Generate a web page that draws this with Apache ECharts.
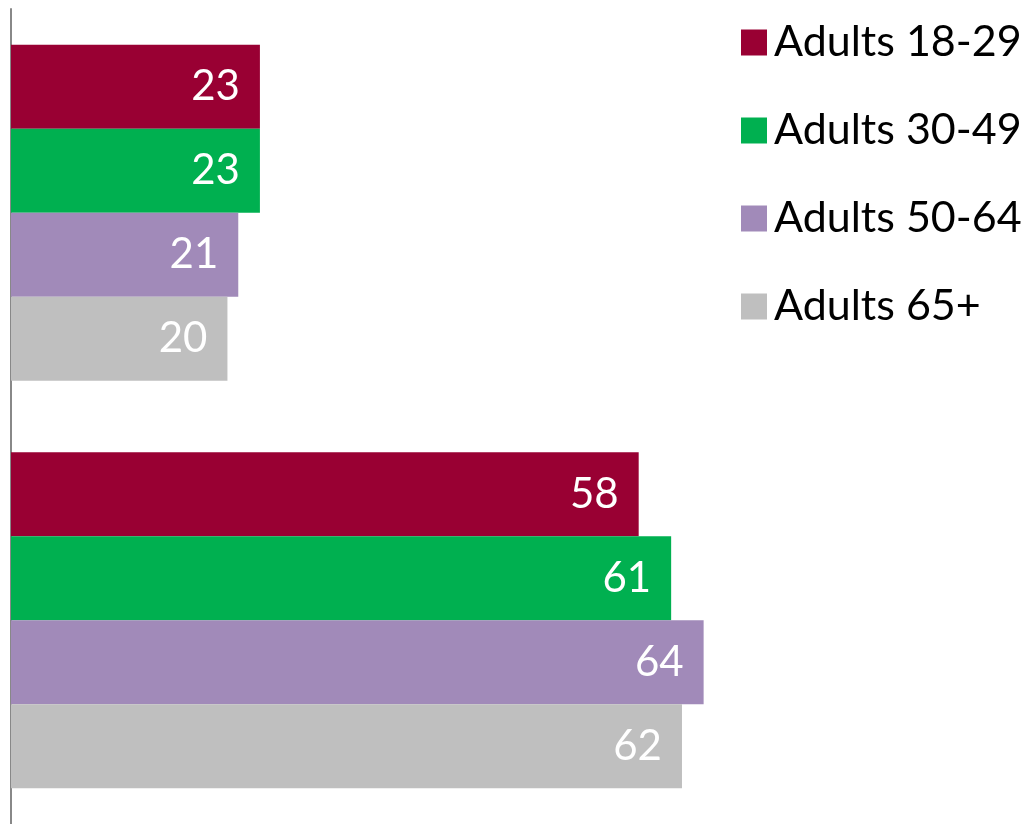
<!DOCTYPE html>
<html>
<head>
<meta charset="UTF-8">
<title>Adults by age</title>
<script src="https://cdn.jsdelivr.net/npm/echarts@6/dist/echarts.min.js"></script>
<style>
  html, body { margin: 0; padding: 0; background: #fff; }
  #main { width: 1029px; height: 824px; }
</style>
</head>
<body>
<div id="main"></div>
<script>
var categories = ['Group A', 'Group B'];
var seriesNames = ['Adults 18-29', 'Adults 30-49', 'Adults 50-64', 'Adults 65+'];
var adults1829 = [23, 58];
var adults3049 = [23, 61];
var adults5064 = [21, 64];
var adults65 = [20, 62];
var colors = ['#990033', '#00B050', '#A18AB9', '#BFBFBF'];

var values = [adults1829, adults3049, adults5064, adults65];
var fontFam = 'Lato, "Open Sans", sans-serif';

var myChart = echarts.init(document.getElementById('main'));

var series = [];
for (var i = 0; i < seriesNames.length; i++) {
  series.push({
    name: seriesNames[i],
    type: 'bar',
    barWidth: 84,
    barGap: '0%',
    data: values[i],
    itemStyle: { color: colors[i] },
    label: {
      show: true,
      position: 'insideRight',
      distance: 20,
      color: '#fff',
      fontSize: 42,
      fontFamily: fontFam
    }
  });
}

var option = {
  animation: false,
  color: colors,
  grid: { left: 11, top: 9, width: 974, height: 818 },
  legend: {
    orient: 'vertical',
    left: 736,
    top: 16,
    itemWidth: 26,
    itemHeight: 26,
    itemGap: 45,
    icon: 'rect',
    data: seriesNames,
    textStyle: { fontSize: 43, lineHeight: 42, color: '#000', fontFamily: fontFam, padding: [0, 0, 0, 2] }
  },
  xAxis: {
    type: 'value',
    min: 0,
    max: 90,
    show: false
  },
  yAxis: {
    type: 'category',
    data: categories,
    inverse: true,
    axisLine: { show: true, lineStyle: { color: '#888888', width: 2 } },
    axisTick: { show: false },
    axisLabel: { show: false }
  },
  series: series
};

myChart.setOption(option);
</script>
</body>
</html>
